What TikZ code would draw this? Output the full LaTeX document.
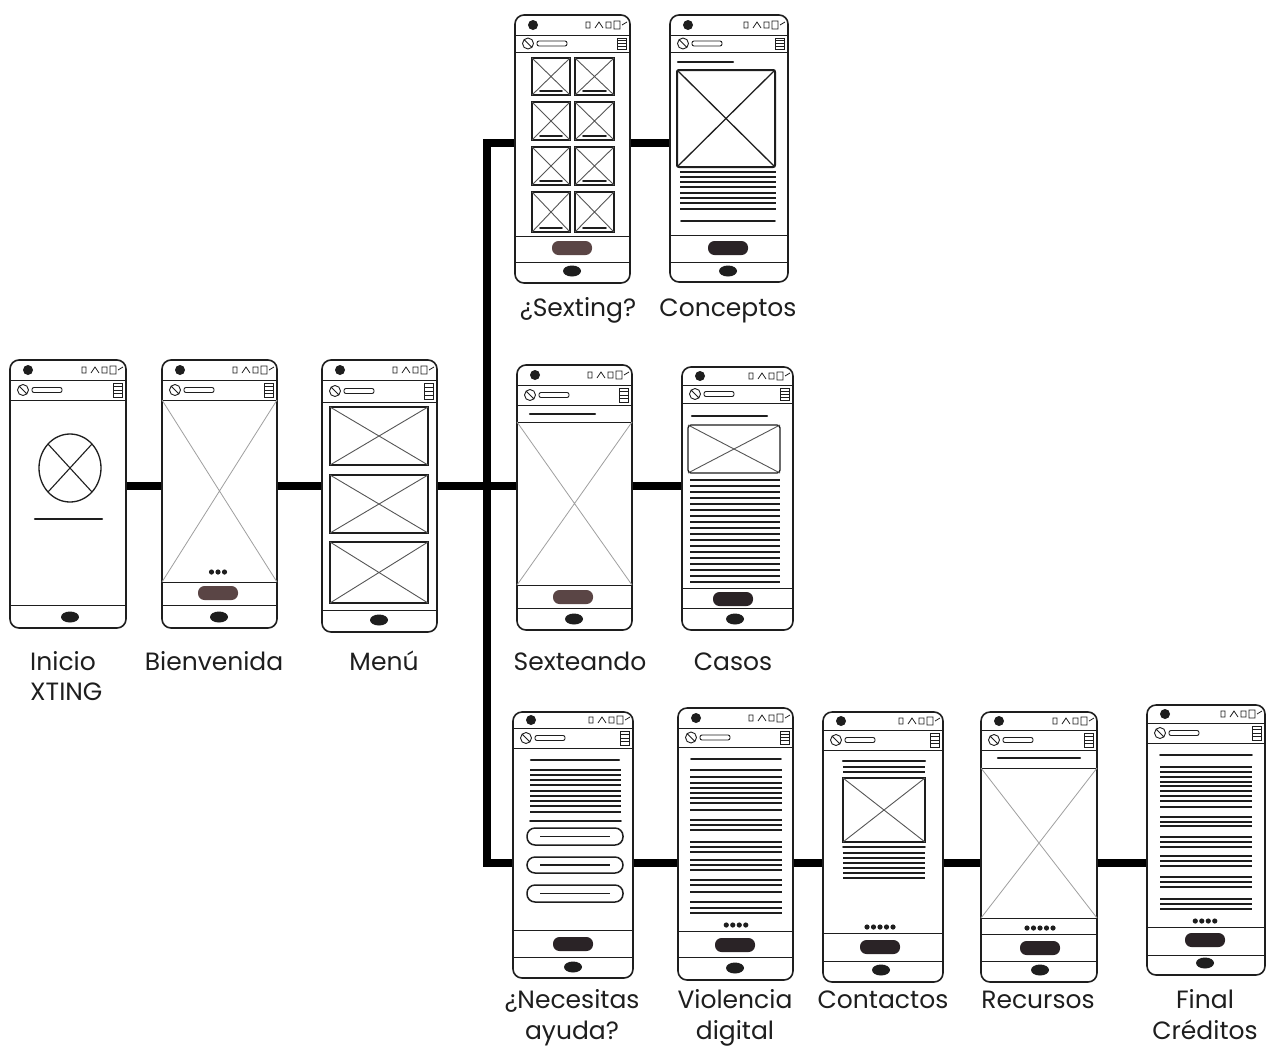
\documentclass[tikz,border=0pt]{standalone}
\usepackage{fontspec}
\setmainfont{Poppins}
\usetikzlibrary{fit}
\definecolor{ink}{HTML}{1E1E1E}
\definecolor{pillc}{HTML}{2A2326}
\definecolor{pillb}{HTML}{5A4545}
\tikzset{
 phonebox/.style={draw=ink, line width=1.6pt, rounded corners=9pt, inner sep=0pt},
 conn/.style={line width=8.5pt, draw=black, line join=miter},
 thinl/.style={draw=ink, line width=1pt},
 txt/.style={draw=ink, line width=1.1pt},
 titlel/.style={draw=ink, line width=2.2pt, line cap=round},
 imgbox/.style={draw=ink, line width=1.3pt},
 xl/.style={draw=ink!75, line width=0.9pt},
 bigx/.style={draw=gray!75, line width=0.8pt},
 lbl/.style={font=\fontsize{25}{31}\selectfont, text=ink, align=center, inner sep=0pt},
}
% phone chrome: name x1 y1 x2 y2 statusbottom headerbottom
\newcommand\phone[7]{%
 \node[phonebox, fit={(#2,#3) (#4,#5)}] (#1) {};
 \draw[thinl] (#2,#6) -- (#4,#6);
 \draw[thinl] (#2,#7) -- (#4,#7);
 \fill[ink] ({#2+18},{(#3+#6)/2}) circle (5pt);
 \draw[ink, line width=0.8pt] ({#4-44},{(#3+#6)/2-3}) rectangle ({#4-40},{(#3+#6)/2+3})
   ({#4-35},{(#3+#6)/2+3}) -- ({#4-31},{(#3+#6)/2-3}) -- ({#4-27},{(#3+#6)/2+3})
   ({#4-24},{(#3+#6)/2-3}) rectangle ({#4-19},{(#3+#6)/2+3})
   ({#4-16},{(#3+#6)/2-4}) rectangle ({#4-10},{(#3+#6)/2+4})
   ({#4-8},{(#3+#6)/2}) -- ({#4-3},{(#3+#6)/2-3});
 \draw[ink, line width=0.9pt] ({#2+13},{(#6+#7)/2}) circle (5.5pt)
   ({#2+9},{(#6+#7)/2-4}) -- ({#2+17},{(#6+#7)/2+4});
 \draw[ink, line width=0.9pt, rounded corners=2pt] ({#2+22},{(#6+#7)/2-2.5}) rectangle ({#2+52},{(#6+#7)/2+2.5});
 \draw[ink, line width=0.8pt] ({#4-13},{#6+3}) rectangle ({#4-4},{#7-3});
 \foreach \k in {1,2,3} \draw[ink, line width=0.8pt] ({#4-13},{#6+3+\k*(#7-#6-6)/4}) -- ({#4-4},{#6+3+\k*(#7-#6-6)/4});
}
\newcommand\lowline[3]{\draw[thinl] (#1,#3) -- (#2,#3);}
\newcommand\pill[2]{\fill[pillc, rounded corners=6.5pt] ({#1-20},{#2-7}) rectangle ({#1+20},{#2+7});}
\newcommand\pillB[2]{\fill[pillb, rounded corners=6.5pt] ({#1-20},{#2-7}) rectangle ({#1+20},{#2+7});}
\newcommand\homebtn[2]{\fill[ink] (#1,#2) ellipse (9pt and 5.5pt);}
\newcommand\xbox[4]{\draw[imgbox] (#1,#2) rectangle (#3,#4); \draw[xl] (#1,#2) -- (#3,#4) (#1,#4) -- (#3,#2);}
\newcommand\pdots[3]{\foreach \k in {1,...,#3} \fill[ink] ({#1+(\k-(#3+1)/2)*6.5},#2) circle (2.6pt);}
\begin{document}
\begin{tikzpicture}[x=1pt,y=-1pt]
\useasboundingbox[fill=white] (0,0) rectangle (1268,1050);

% ---------- Inicio
\phone{inicio}{10}{360}{126}{628}{380}{400}
\lowline{10}{126}{605}
\homebtn{70}{617}
\draw[ink, line width=1.3pt] (70,468) ellipse (31pt and 34pt);
\draw[ink, line width=1.1pt] (48,444) -- (92,492) (92,444) -- (48,492);
\draw[titlel] (35,519) -- (102,519);

% ---------- Bienvenida
\phone{bienv}{162}{360}{277}{628}{380}{400}
\draw[bigx] (162,400) -- (277,582) (277,400) -- (162,582);
\lowline{162}{277}{582}
\lowline{162}{277}{605}
\pdots{218}{572}{3}
\pillB{218}{593}
\homebtn{219}{617}

% ---------- Menu
\phone{menu}{322}{360}{437}{632}{380}{402}
\xbox{330}{407}{428}{465}
\xbox{330}{475}{428}{533}
\xbox{330}{542}{428}{603}
\lowline{322}{437}{610}
\homebtn{379}{620}

% ---------- Sexting
\phone{sexting}{515}{15}{630}{283}{35}{52}
\foreach \ya/\yb in {58/95,102/140,147/185,192/232}{
  \xbox{532}{\ya}{570}{\yb}
  \xbox{575}{\ya}{614}{\yb}
  \draw[titlel, line width=1.6pt] (540,{\yb-4}) -- (562,{\yb-4});
  \draw[titlel, line width=1.6pt] (583,{\yb-4}) -- (606,{\yb-4});
}
\lowline{515}{630}{236}
\lowline{515}{630}{262}
\pillB{572}{248}
\homebtn{572}{271}

% ---------- Conceptos
\phone{conceptos}{670}{15}{788}{282}{35}{52}
\draw[titlel] (678,62) -- (733,62);
\draw[imgbox, line width=2pt, rounded corners=2pt] (677,70) rectangle (775,167);
\draw[ink, line width=1.3pt] (677,70) -- (775,167) (677,167) -- (775,70);
\foreach \y in {172,177,182,187,193,198,203,209} \draw[txt] (680,\y) -- (776,\y);
\draw[titlel, line width=1.8pt] (681,221) -- (775,221);
\lowline{670}{788}{235}
\lowline{670}{788}{262}
\pill{728}{248}
\homebtn{728}{271}

% ---------- Sexteando
\phone{sexteando}{517}{365}{632}{630}{385}{405}
\draw[titlel] (530,414) -- (595,414);
\lowline{517}{632}{422}
\draw[bigx] (517,422) -- (632,585) (632,422) -- (517,585);
\lowline{517}{632}{585}
\lowline{517}{632}{608}
\pillB{573}{597}
\homebtn{574}{619}

% ---------- Casos
\phone{casos}{682}{367}{793}{630}{385}{403}
\draw[titlel] (692,416) -- (767,416);
\draw[imgbox, rounded corners=3pt] (688,425) rectangle (780,473);
\draw[xl] (688,425) -- (780,473) (688,473) -- (780,425);
\foreach \y in {480,486,...,582} \draw[txt] (690,\y) -- (780,\y);
\lowline{682}{793}{588}
\lowline{682}{793}{608}
\pill{733}{599}
\homebtn{735}{619}

% ---------- Necesitas ayuda
\phone{necesitas}{513}{712}{633}{978}{728}{748}
\draw[titlel] (531,760) -- (619,760);
\foreach \y in {770,775,780,785,791,796,801,806,812} \draw[txt] (530,\y) -- (621,\y);
\draw[titlel, line width=1.8pt] (530,821) -- (621,821);
\foreach \ya/\yb in {828/845,857/873,885/902}{
  \draw[ink, line width=1.5pt, rounded corners=8pt] (527,\ya) rectangle (623,\yb);
  \draw[ink, line width=1.2pt] (540,{(\ya+\yb)/2}) -- (610,{(\ya+\yb)/2});
}
\lowline{513}{633}{930}
\lowline{513}{633}{957}
\pill{573}{944}
\homebtn{573}{967}

% ---------- Violencia digital
\phone{violencia}{678}{708}{793}{980}{728}{747}
\draw[titlel, line width=1.8pt] (691,759) -- (781,759);
\foreach \y in {770,777,783,788,793,798,803,810,820,825,830,842,847,852,860,865,870,880,885,892,902,908,913} \draw[txt] (690,\y) -- (782,\y);
\pdots{736}{925}{4}
\lowline{678}{793}{931}
\lowline{678}{793}{957}
\pill{735}{945}
\homebtn{735}{968}

% ---------- Contactos
\phone{contactos}{823}{712}{943}{982}{730}{750}
\draw[titlel] (843,761) -- (925,761);
\foreach \y in {767,772} \draw[txt] (843,\y) -- (925,\y);
\xbox{843}{778}{925}{842}
\draw[titlel, line width=1.8pt] (843,847) -- (925,847);
\foreach \y in {853,858,863,868,873,878} \draw[txt] (843,\y) -- (925,\y);
\pdots{880}{927}{5}
\lowline{823}{943}{933}
\lowline{823}{943}{961}
\pill{880}{947}
\homebtn{881}{970}

% ---------- Recursos
\phone{recursos}{981}{712}{1097}{982}{730}{750}
\draw[titlel] (998,758) -- (1080,758);
\lowline{981}{1097}{768}
\draw[bigx] (981,768) -- (1097,918) (1097,768) -- (981,918);
\lowline{981}{1097}{918}
\pdots{1040}{928}{5}
\lowline{981}{1097}{934}
\lowline{981}{1097}{961}
\pill{1040}{948}
\homebtn{1040}{970}

% ---------- Final creditos
\phone{final}{1147}{705}{1265}{975}{723}{743}
\draw[titlel, line width=1.8pt] (1160,755) -- (1252,755);
\foreach \y in {767,772,777,782,786,791,796,801,807,817,822,826,837,842,847,856,861,866,877,882,887,899,904,909} \draw[txt] (1160,\y) -- (1252,\y);
\pdots{1205}{921}{4}
\lowline{1147}{1265}{927}
\lowline{1147}{1265}{955}
\pill{1205}{940}
\homebtn{1205}{963}

% ---------- connectors
\coordinate (ttop) at (487,143);
\coordinate (tmid) at (487,486);
\coordinate (tbot) at (487,863);
\draw[conn] (inicio.east |- tmid) -- (bienv.west |- tmid);
\draw[conn] (bienv.east |- tmid) -- (menu.west |- tmid);
\draw[conn] (menu.east |- tmid) -- (sexteando.west |- tmid);
\draw[conn] (sexting.west |- ttop) -- (ttop) -- (tbot) -- (necesitas.west |- tbot);
\draw[conn] (sexting.east |- ttop) -- (conceptos.west |- ttop);
\draw[conn] (sexteando.east |- tmid) -- (casos.west |- tmid);
\draw[conn] (necesitas.east |- tbot) -- (violencia.west |- tbot);
\draw[conn] (violencia.east |- tbot) -- (contactos.west |- tbot);
\draw[conn] (contactos.east |- tbot) -- (recursos.west |- tbot);
\draw[conn] (recursos.east |- tbot) -- (final.west |- tbot);

% ---------- labels (multi-line: base = last line)
\node[lbl, align=left, anchor=base west, font=\fontsize{25}{30}\selectfont] (l1) at (30,700) {Inicio\\XTING};
\node[lbl, anchor=base] (l2) at (214,670) {Bienvenida};
\node[lbl, anchor=base] (l3) at (384,670) {Menú};
\node[lbl, anchor=base] (l4) at (578,316) {¿Sexting?};
\node[lbl, anchor=base] (l5) at (728,316) {Conceptos};
\node[lbl, anchor=base] (l6) at (580,670) {Sexteando};
\node[lbl, anchor=base] (l7) at (733,670) {Casos};
\node[lbl, anchor=base] (l8) at (572,1039) {¿Necesitas\\ayuda?};
\node[lbl, anchor=base] (l9) at (735,1039) {Violencia\\digital};
\node[lbl, anchor=base] (l10) at (883,1008) {Contactos};
\node[lbl, anchor=base] (l11) at (1038,1008) {Recursos};
\node[lbl, anchor=base] (l12) at (1205,1039) {Final\\Créditos};
\end{tikzpicture}
\end{document}
